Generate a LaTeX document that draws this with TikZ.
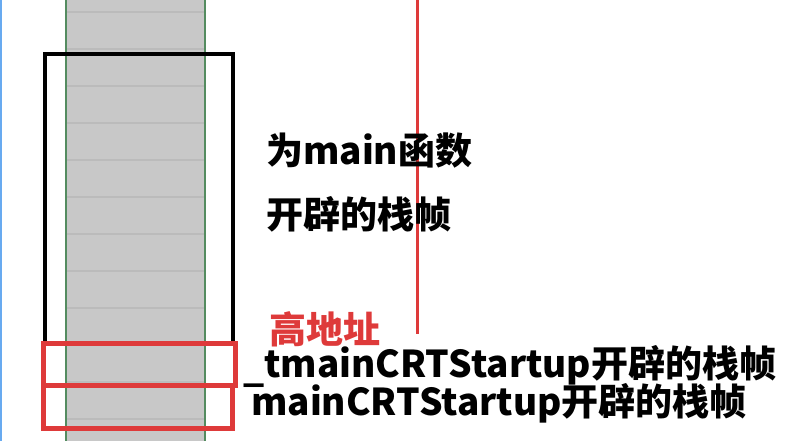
\documentclass[tikz,border=0pt]{standalone}
\usepackage{fontspec}
\newfontfamily\cjk{Noto Sans CJK SC}
\usepackage{xcolor}
\usepackage{tikz}
\usetikzlibrary{positioning}
\definecolor{framered}{RGB}{222,58,58}
\definecolor{slotgray}{RGB}{200,200,200}
\definecolor{slotline}{RGB}{187,187,187}
\definecolor{edgegreen}{RGB}{84,140,96}
\definecolor{edgeblue}{RGB}{104,170,240}

\begin{document}
\begin{tikzpicture}[x=1pt,y=-1pt,font=\cjk\bfseries\fontsize{37}{42}\selectfont,
    label/.style={anchor=base west,inner sep=0pt}]
    \useasboundingbox (0,0) rectangle (785,441);
    % window edge on the left
    \draw[edgeblue,line width=2.5pt] (1,0) -- (1,441);
    % the stack column
    \fill[slotgray] (66,0) rectangle (205,441);
    \foreach \y in {12,49,...,420} \draw[slotline,line width=1.2pt] (67,\y) -- (204,\y);
    \draw[edgegreen,line width=1.5pt] (66,0) -- (66,441);
    \draw[edgegreen,line width=1.5pt] (205,0) -- (205,441);
    % frame of main
    \draw[line width=4pt] (45,343) -- (45,54) -- (233,54) -- (233,343);
    % frames of the startup routines
    \draw[framered,line width=5pt] (43,343) rectangle (235,385);
    \draw[framered,line width=5pt] (43,385) rectangle (232,428);
    % high address marker
    \draw[framered,line width=3pt] (417,0) -- (417,334);
    % labels
    \node[label] (mainA) at (266,165) {为main函数};
    \node[label] (mainB) at (266,228) {开辟的栈帧};
    \node[label,text=framered] (high) at (269,343) {高地址};
    \node[label] (tmain) at (243,377) {\raisebox{-4pt}{\_}tmainCRTStartup开辟的栈帧};
    \node[label] (crt) at (251,415) {mainCRTStartup开辟的栈帧};
\end{tikzpicture}
\end{document}
